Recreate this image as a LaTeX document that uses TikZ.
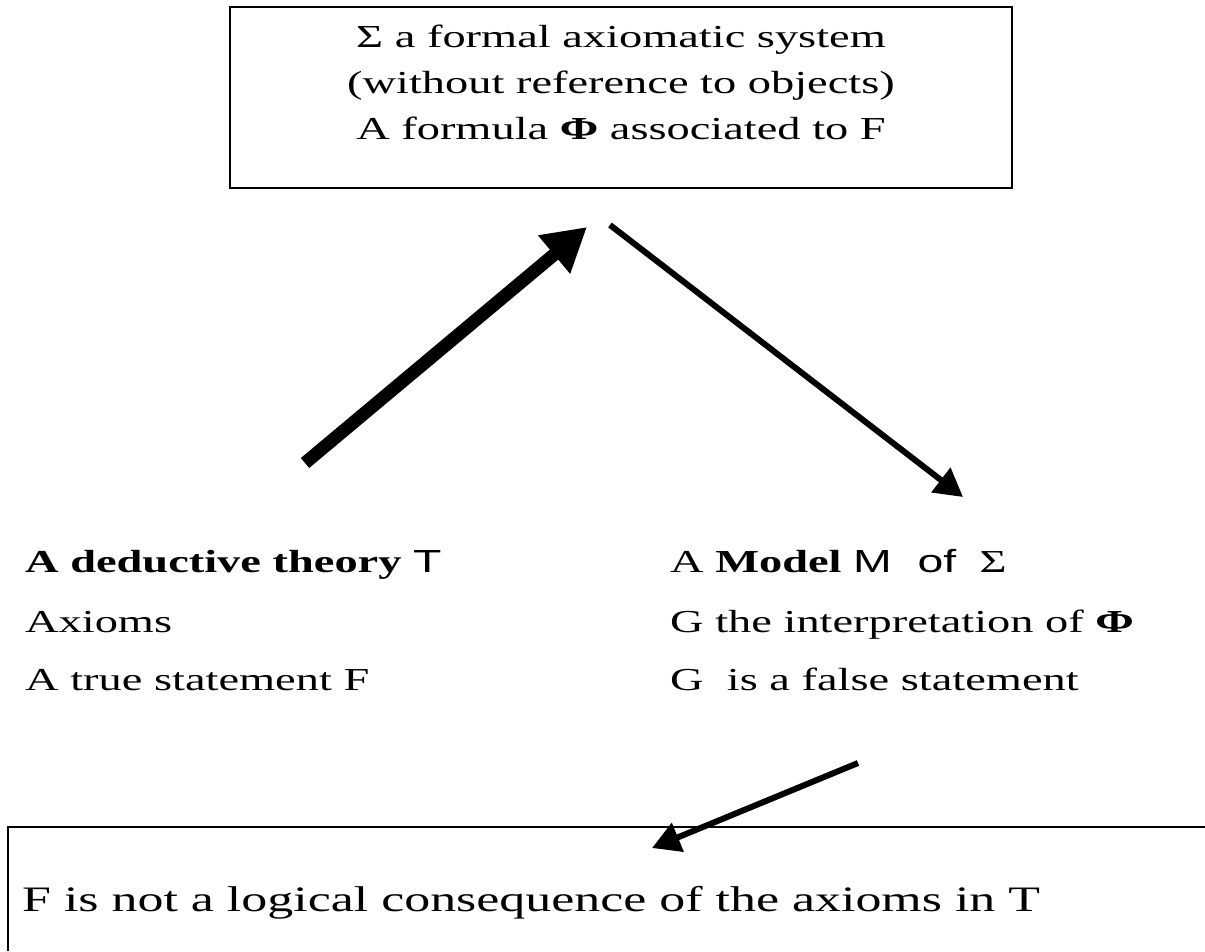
\documentclass[tikz,border=0pt]{standalone}
\usepackage{fontspec}
\setmainfont{Liberation Serif}[FakeStretch=1.45]
\newfontfamily\sansf{Liberation Sans}[FakeStretch=1.45]
\usetikzlibrary{arrows.meta}
\tikzset{
  txt/.style={anchor=base west, inner sep=0pt, font=\fontsize{32}{36}\selectfont},
  boxtxt/.style={anchor=base, inner sep=0pt, font=\fontsize{32}{36}\selectfont},
  thickarr/.style={line width=13pt, -{Triangle[length=43pt,width=47pt]}},
  thinarr/.style={line width=6pt, -{Triangle[length=28pt,width=30pt]}},
  frame/.style={draw, line width=2pt}
}
\begin{document}
\begin{tikzpicture}[x=1pt,y=-1pt]
\useasboundingbox (0,0) rectangle (1205,951);
% top box
\node[frame, minimum width=782pt, minimum height=181pt, inner sep=0pt] (top) at (621,97.5) {};
\node[boxtxt] (t1) at (621,47) {Σ a formal axiomatic system};
\node[boxtxt] (t2) at (621,93) {(without reference to objects)};
\node[boxtxt] (t3) at (621,139) {A formula \textbf{Φ} associated to F};
% left text
\node[txt] (l1) at (25,572) {\textbf{A deductive theory} {\sansf T}};
\node[txt] (l2) at (25,632) {Axioms};
\node[txt] (l3) at (25,690) {A true statement F};
% right text
\node[txt] (r1) at (670,572) {A \textbf{Model} {\sansf M\ \ of} \ Σ};
\node[txt] (r2) at (670,632) {G the interpretation of \textbf{Φ}};
\node[txt] (r3) at (670,690) {G\ \ is a false statement};
% bottom box
\coordinate (bl) at (8,951);
\coordinate (btl) at (8,827);
\coordinate (btr) at (1205,827);
\draw[line width=2pt] (bl) -- (btl) -- (btr);
\node[anchor=base west, inner sep=0pt, font=\fontsize{35.8}{40}\selectfont] (bt) at (22,911) {F is not a logical consequence of the axioms in T};
% arrows
\coordinate (a1s) at (305,463);
\coordinate (a1e) at (587,227);
\draw[thickarr] (a1s) -- (a1e);
\coordinate (a2s) at (610,225);
\coordinate (a2e) at (963,497);
\draw[thinarr] (a2s) -- (a2e);
\coordinate (a3s) at (858,763);
\coordinate (a3e) at (652,848);
\draw[thinarr] (a3s) -- (a3e);
\end{tikzpicture}
\end{document}
